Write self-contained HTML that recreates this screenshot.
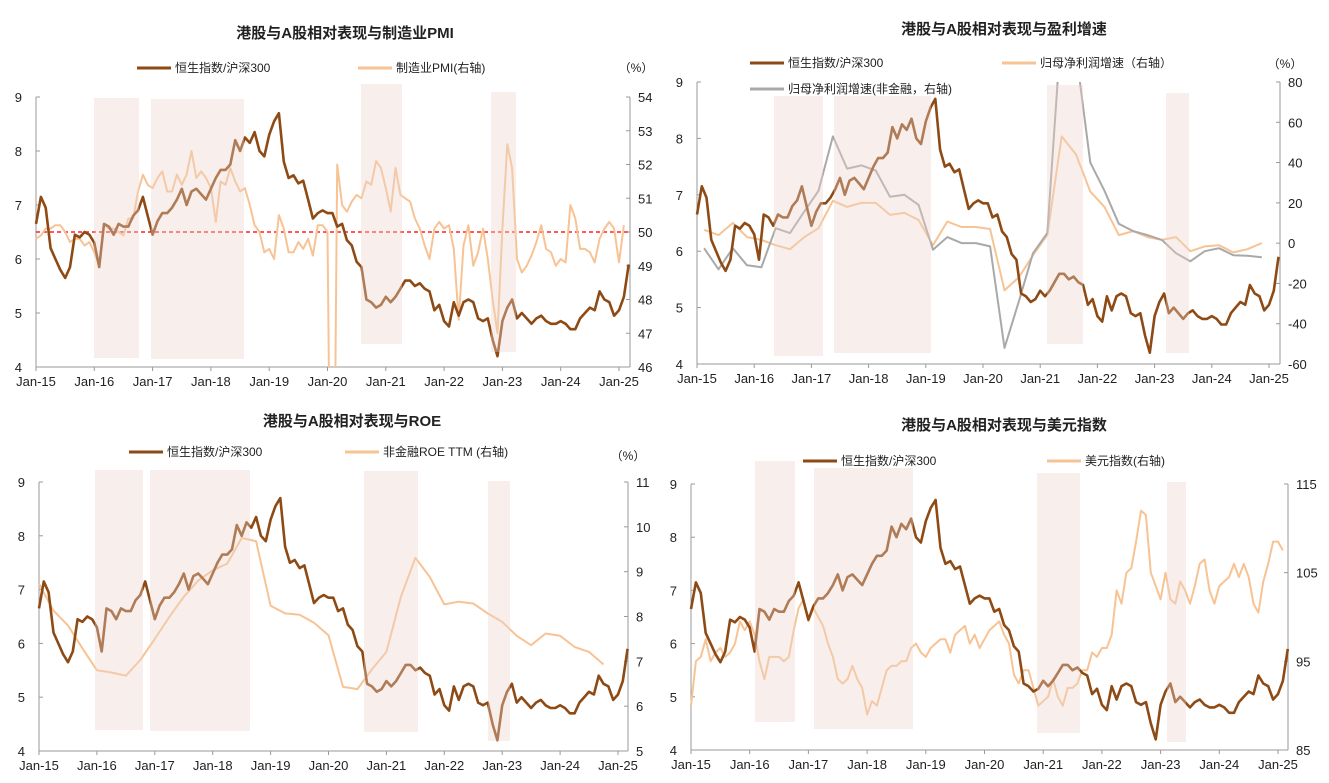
<!DOCTYPE html>
<html><head><meta charset="utf-8">
<style>
html,body{margin:0;padding:0;background:#fff;}
svg{display:block;font-family:"Liberation Sans","Noto Sans CJK SC",sans-serif;}
</style></head>
<body>
<svg id="c" width="1329" height="783" viewBox="0 0 1329 783" xmlns="http://www.w3.org/2000/svg"></svg>
<script>
// shared series: HSI / CSI300 ratio, monthly Jan-15 .. Mar-25
const hsiRatio = [
6.65,7.15,6.95,6.2,6.0,5.8,5.65,5.85,6.45,6.4,6.5,6.45,
6.3,5.85,6.65,6.6,6.45,6.65,6.6,6.6,6.8,6.9,7.15,6.8,
6.45,6.7,6.85,6.85,6.95,7.1,7.3,7.0,7.25,7.3,7.2,7.1,
7.3,7.5,7.65,7.65,7.75,8.2,8.0,8.25,8.15,8.35,8.0,7.9,
8.3,8.55,8.7,7.8,7.5,7.55,7.4,7.45,7.1,6.75,6.85,6.9,
6.85,6.85,6.6,6.65,6.35,6.25,5.95,5.85,5.25,5.2,5.1,5.15,
5.3,5.2,5.3,5.45,5.6,5.6,5.5,5.55,5.45,5.4,5.05,5.15,
4.85,4.75,5.2,4.95,5.2,5.25,5.2,4.9,4.85,4.9,4.5,4.2,
4.85,5.1,5.25,4.9,5.0,4.9,4.8,4.9,4.95,4.85,4.8,4.8,
4.85,4.8,4.7,4.7,4.9,5.0,5.1,5.05,5.4,5.25,5.2,4.95,
5.05,5.3,5.9];
const pmi = [
49.8,49.9,50.1,50.1,50.2,50.2,50.0,49.7,49.8,49.8,49.6,49.7,
49.4,49.0,50.2,50.1,50.1,50.0,49.9,50.4,50.4,51.2,51.7,51.4,
51.3,51.6,51.8,51.2,51.2,51.7,51.4,51.7,52.4,51.6,51.8,51.6,
51.3,50.3,51.5,51.4,51.9,51.5,51.2,51.3,50.8,50.2,50.0,49.4,
49.5,49.2,50.5,50.1,49.4,49.4,49.7,49.5,49.8,49.3,50.2,50.2,
50.0,35.7,52.0,50.8,50.6,50.9,51.1,51.0,51.5,51.4,52.1,51.9,
51.3,50.6,51.9,51.1,51.0,50.9,50.4,50.1,49.6,49.2,50.1,50.3,
50.1,50.2,49.5,47.4,49.6,50.2,49.0,49.4,50.1,49.2,48.0,47.0,
50.1,52.6,51.9,49.2,48.8,49.0,49.3,49.7,50.2,49.5,49.4,49.0,
49.2,49.1,50.8,50.4,49.5,49.5,49.4,49.1,49.8,50.1,50.3,50.1,
49.1,50.2];
// quarterly profit growth (%)
const profitGrowth = [6.6,4,10,3,1.6,-1,-3,3,7.4,21,18,20,20,14,15,11.5,-1,10.7,8,8,7,-23.4,-17,-6,4,53,44,25.6,18,4,6,3,1.6,3,-4,-1.6,-1,-4.6,-3,0];
const profitGrowthNonFin = [-2.5,-13,-2.5,-11,-12,7.4,5,15.7,26,53,37,38.6,36,23,24,19,-3.3,3,0,0,-1.6,-52,-29,-5,5,110,95,40,26,9.6,6,4,1.6,-5,-9,-4,-2.5,-6,-6.3,-7];
// quarterly non-financial ROE TTM (%)
const roe = [8.73,8.13,7.8,7.29,6.8,6.75,6.68,7.03,7.5,7.99,8.44,8.8,9.03,9.18,9.75,9.68,8.24,8.07,8.04,7.86,7.58,6.43,6.38,6.82,7.21,8.44,9.31,8.88,8.27,8.33,8.29,8.07,7.88,7.57,7.36,7.62,7.57,7.32,7.21,6.93];
// monthly US dollar index
const dxy = [
90,95,95.5,97.5,95,96,96.5,95.5,96,97,99.5,98.5,
99.5,98,95,93,95.5,95.5,95.5,95,95.5,98.5,101,102,
99.5,101,100,99,97,95.5,93,92.5,93,94.5,93,92,
89,90.5,90,92,94,94.5,94.5,95,95,96.5,97,96,
95.5,96.5,97,97.5,97.5,96,98,98.5,99,97,98,96.5,
97.5,98.5,99,99.5,98,97,93.5,92.5,94,94,92,90,
90.5,91,93,91,90,92,92,92.5,94,94,96,95.5,
96.5,96.5,98,103,101.5,105,105.5,108.5,112,111.5,105,103.5,
102,105,102,101.5,104,103,101.5,103.5,106,106.5,103,101.5,
103.5,104,104.5,106,104.5,106,104.5,101.5,100.5,104,106,108.5,
108.5,107.5];
const xTickLabels = ["Jan-15","Jan-16","Jan-17","Jan-18","Jan-19","Jan-20","Jan-21","Jan-22","Jan-23","Jan-24","Jan-25"];
const leftTicks = [4,5,6,7,8,9];
const pmiTicks = [46,47,48,49,50,51,52,53,54];
const profitTicks = [-60,-40,-20,0,20,40,60,80];
const roeTicks = [5,6,7,8,9,10,11];
const dxyTicks = [85,95,105,115];

const NS = "http://www.w3.org/2000/svg";
const svg = document.getElementById("c");
const BROWN = "#8e4a14", PEACH = "#f8c394", GRAY = "#a9a9a9";
function mk(tag, attrs, parent){const e=document.createElementNS(NS,tag);for(const k in attrs)e.setAttribute(k,attrs[k]);(parent||svg).appendChild(e);return e;}
function txt(s,x,y,size,anchor,parent,weight){const t=mk("text",{x:x,y:y,"font-size":size,"text-anchor":anchor||"start",fill:"#222","font-weight":weight||"normal"},parent);t.textContent=s;return t;}

function panel(cfg){
  const g = mk("g",{});
  
  
  const xs = m => cfg.x0 + (cfg.x120 - cfg.x0) * m / 120;
  const yl = v => cfg.yBot - (v - 4) / 5 * (cfg.yBot - cfg.yTop);
  const yr = v => cfg.yBot - (v - cfg.rMin) / (cfg.rMax - cfg.rMin) * (cfg.yBot - cfg.yTop);
  const clip = mk("clipPath",{id:cfg.name+"-clip"},g);
  mk("rect",{x:cfg.x0-2,y:cfg.yTop,width:cfg.axisR-cfg.x0+4,height:cfg.yBot-cfg.yTop},clip);
  const t = txt(cfg.title, cfg.titleX, cfg.titleY, 15, "middle", g, "bold");
  
  
  const al = mk("line",{x1:cfg.x0,y1:cfg.yTop,x2:cfg.x0,y2:cfg.yBot,stroke:"#999","stroke-width":1},g);
  
  
  const ar = mk("line",{x1:cfg.axisR,y1:cfg.yTop,x2:cfg.axisR,y2:cfg.yBot,stroke:"#999","stroke-width":1},g);
  
  
  const ab = mk("line",{x1:cfg.x0,y1:cfg.yBot,x2:cfg.axisR,y2:cfg.yBot,stroke:"#999","stroke-width":1},g);
  
  
  leftTicks.forEach(v=>{
    mk("line",{x1:cfg.x0,y1:yl(v),x2:cfg.x0+4,y2:yl(v),stroke:"#999"},g);
    const l=txt(String(v),cfg.x0-14,yl(v)+5,13,"end",g);
    
    
  });
  cfg.rTicks.forEach(v=>{
    mk("line",{x1:cfg.axisR,y1:yr(v),x2:cfg.axisR-4,y2:yr(v),stroke:"#999"},g);
    const l=txt(String(v),cfg.axisR+8,yr(v)+5,13,"start",g);
    
    
  });
  xTickLabels.forEach((s,i)=>{
    const x=xs(i*12);
    mk("line",{x1:x,y1:cfg.yBot,x2:x,y2:cfg.yBot+4,stroke:"#999"},g);
    const l=txt(s,x,cfg.yBot+19,13,"middle",g);
    
    
  });
  if(cfg.pct){const p=txt("（%）",cfg.pct[0],cfg.pct[1],12,"middle",g);}
  if(cfg.refLine!==undefined){
    const rl=mk("line",{x1:cfg.x0,y1:yr(cfg.refLine),x2:cfg.axisR,y2:yr(cfg.refLine),stroke:"#f22","stroke-width":1.5,"stroke-dasharray":"4,3"},g);
    
    
  }
  const cg = mk("g",{"clip-path":"url(#"+cfg.name+"-clip)"},g);
  cfg.series.forEach(s=>{
    const pts = s.data.map((v,i)=>[xs(s.month(i)), s.axis==="r"?yr(v):yl(v)]);
    const p=mk("polyline",{points:pts.map(q=>q[0].toFixed(1)+","+q[1].toFixed(1)).join(" "),fill:"none",stroke:s.color,"stroke-width":s.w,"stroke-linejoin":"round"},cg);
    
    
  });
  cfg.shades.forEach(r=>{
    const b=mk("rect",{x:r[0],y:r[2],width:r[1]-r[0],height:r[3]-r[2],fill:"rgb(236,212,204)","fill-opacity":0.37},g);
    
    
  });
  cfg.legend.forEach(L=>{
    const lg=mk("g",{},g);
    
    
    mk("line",{x1:L[0],y1:L[1]-4,x2:L[0]+34,y2:L[1]-4,stroke:L[2],"stroke-width":3},lg);
    txt(L[3],L[0]+38,L[1],12,"start",lg);
  });
}
const monthly = i=>i;
const quarterly = i=>3*i+1.5;
panel({name:"panel-pmi",title:"港股与A股相对表现与制造业PMI",titleX:345,titleY:38,
  x0:36,x120:619,axisR:630,yTop:97,yBot:367,rMin:46,rMax:54,rTicks:pmiTicks,refLine:50,pct:[636,72],
  series:[{name:"pmi-line",data:pmi,month:monthly,axis:"r",color:PEACH,w:2},
          {name:"hsi-csi300-line",data:hsiRatio,month:monthly,axis:"l",color:BROWN,w:2.6}],
  shades:[[94,139,98,358],[151,244,99,359],[361,402,84,344],[491,516,92,352]],
  legend:[[137,72,BROWN,"恒生指数/沪深300"],[358,72,PEACH,"制造业PMI(右轴)"]]});
panel({name:"panel-profit",title:"港股与A股相对表现与盈利增速",titleX:1004,titleY:34,
  x0:697,x120:1269,axisR:1280,yTop:82,yBot:364,rMin:-60,rMax:80,rTicks:profitTicks,pct:[1285,68],
  series:[{name:"profit-growth-line",data:profitGrowth,month:quarterly,axis:"r",color:PEACH,w:2},
          {name:"profit-growth-nonfin-line",data:profitGrowthNonFin,month:quarterly,axis:"r",color:GRAY,w:2},
          {name:"hsi-csi300-line",data:hsiRatio,month:monthly,axis:"l",color:BROWN,w:2.6}],
  shades:[[774,823,96,356],[834,931,96,353],[1047,1083,85,344],[1166,1189,93,353]],
  legend:[[750,67,BROWN,"恒生指数/沪深300"],[1002,67,PEACH,"归母净利润增速（右轴）"],[750,93,GRAY,"归母净利润增速(非金融，右轴)"]]});
panel({name:"panel-roe",title:"港股与A股相对表现与ROE",titleX:352,titleY:426,
  x0:39,x120:618,axisR:628,yTop:482,yBot:751,rMin:5,rMax:11,rTicks:roeTicks,pct:[628,460],
  series:[{name:"roe-line",data:roe,month:i=>3*i,axis:"r",color:PEACH,w:2},
          {name:"hsi-csi300-line",data:hsiRatio,month:monthly,axis:"l",color:BROWN,w:2.6}],
  shades:[[95,143,470,730],[150,250,470,731],[364,418,471,732],[488,510,481,741]],
  legend:[[129,456,BROWN,"恒生指数/沪深300"],[345,456,PEACH,"非金融ROE TTM (右轴)"]]});
panel({name:"panel-dxy",title:"港股与A股相对表现与美元指数",titleX:1004,titleY:430,
  x0:691,x120:1278,axisR:1288,yTop:484,yBot:750,rMin:85,rMax:115,rTicks:dxyTicks,
  series:[{name:"dxy-line",data:dxy,month:monthly,axis:"r",color:PEACH,w:2},
          {name:"hsi-csi300-line",data:hsiRatio,month:monthly,axis:"l",color:BROWN,w:2.6}],
  shades:[[755,795,461,722],[814,913,468,729],[1037,1080,473,733],[1167,1186,482,742]],
  legend:[[803,465,BROWN,"恒生指数/沪深300"],[1047,465,PEACH,"美元指数(右轴)"]]});
</script>
</body></html>
